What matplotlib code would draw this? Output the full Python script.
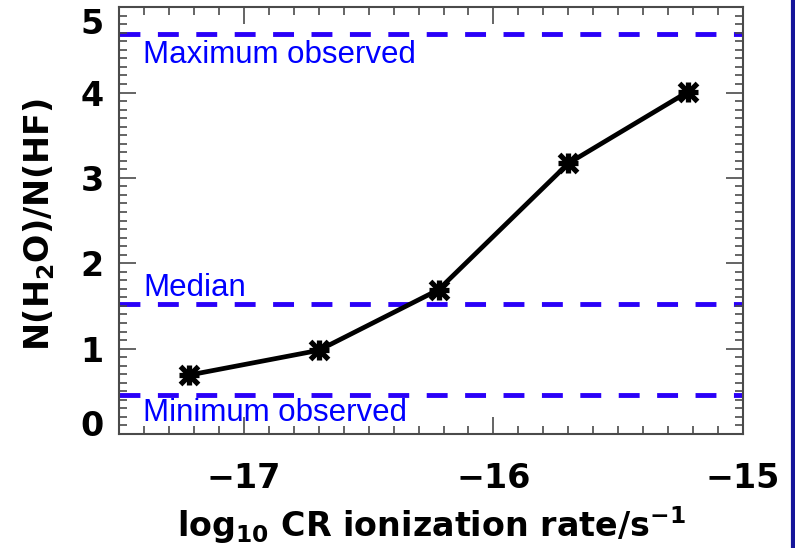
import numpy as np
import matplotlib.pyplot as plt
from matplotlib.ticker import MultipleLocator
from matplotlib.lines import Line2D
import matplotlib.transforms as mtrans

# log10 CR ionization rate vs N(H2O)/N(HF)
log_cr = [-17.22, -16.70, -16.22, -15.70, -15.22]
ratio = [0.69, 0.98, 1.69, 3.17, 4.01]

# observed levels
obs_levels = [4.68, 1.52, 0.46]
obs_names = ["Maximum observed", "Median", "Minimum observed"]
obs_text_y = [4.35, 1.62, 0.15]

x_ticks = [-17, -16, -15]
y_ticks = [0, 1, 2, 3, 4, 5]

blue = '#2a00f8'
axcol = '#4a4a4a'

fig = plt.figure(figsize=(7.95, 5.48), dpi=100)
ax = fig.add_axes([0.1497, 0.208, 0.785, 0.779])

for lev, name, ty in zip(obs_levels, obs_names, obs_text_y):
    ax.axhline(lev, color=blue, lw=3.5, ls=(0, (4.3, 3.6)), zorder=1)
    ax.text(-17.404, ty, name, color='blue', fontsize=22.5,
            family='Liberation Sans', va='baseline', ha='left')

ax.plot(log_cr, ratio, color='black', lw=3.4, zorder=3)
ax.plot(log_cr, ratio, ls='none', marker='x', ms=13, mew=3.8, color='black', zorder=4)
ax.plot(log_cr, ratio, ls='none', marker='+', ms=15, mew=3.8, color='black', zorder=4)

ax.set_xlim(-17.5, -15)
ax.set_ylim(0, 5)
ax.set_xticks(x_ticks)
ax.set_xticklabels(['\u221217', '\u221216', '\u221215'])
ax.set_yticks(y_ticks)
ax.xaxis.set_minor_locator(MultipleLocator(0.1))
ax.yaxis.set_minor_locator(MultipleLocator(0.1))

for s in ax.spines.values():
    s.set_color(axcol)
    s.set_linewidth(1.5)
ax.tick_params(which='both', direction='in', top=True, right=True, color=axcol, width=1.2)
ax.tick_params(which='major', length=12)
ax.tick_params(which='minor', length=6)
ax.tick_params(axis='x', which='major', pad=20, labelsize=24)
ax.tick_params(axis='y', which='major', pad=11, labelsize=24)
for lab in ax.get_xticklabels() + ax.get_yticklabels():
    lab.set_fontweight('bold')

# end labels on the y axis sit inside the axis range
ylabs = ax.get_yticklabels()
ylabs[0].set_transform(ylabs[0].get_transform() + mtrans.ScaledTranslation(0, 11 / 100, fig.dpi_scale_trans))
ylabs[-1].set_transform(ylabs[-1].get_transform() + mtrans.ScaledTranslation(0, -14 / 100, fig.dpi_scale_trans))

ax.set_xlabel(r'$\mathbf{log_{10}}$ CR ionization rate/s$^{\mathbf{-1}}$',
              fontsize=24, fontweight='bold')
ax.set_ylabel(r'N(H$_\mathbf{2}$O)/N(HF)', fontsize=24, fontweight='bold')
ax.xaxis.set_label_coords(0.5, -0.165)
ax.yaxis.set_label_coords(-0.1, 0.49)

# slide border on the right
fig.add_artist(Line2D([0.9975, 0.9975], [0, 1], color='#15159a', lw=3, transform=fig.transFigure))

fig.savefig('out.png', dpi=100)
